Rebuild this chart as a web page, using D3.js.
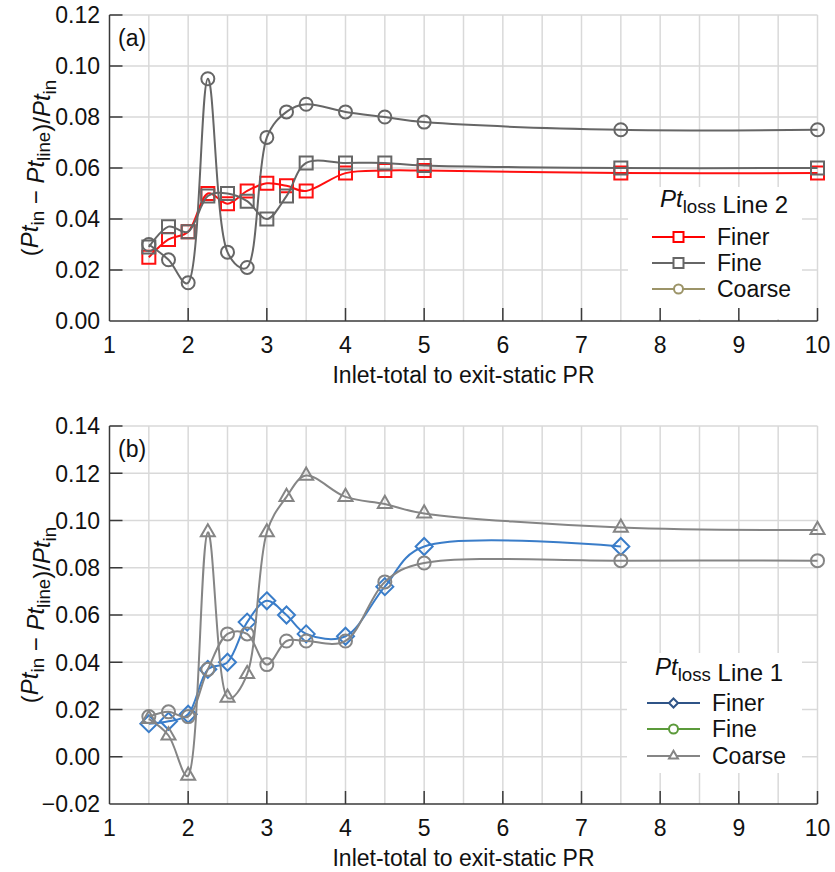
<!DOCTYPE html>
<html>
<head>
<meta charset="utf-8">
<script src="https://cdn.jsdelivr.net/npm/d3@7"></script>
<style>
  body { margin: 0; background: #fff; }
  text { font-family: "Liberation Sans", Arial, sans-serif; fill: #111; }
</style>
</head>
<body>
<svg id="chart" width="835" height="872"></svg>
<script>
// pressure ratio stations (same for every series)
const prValues = [1.5, 1.75, 2, 2.25, 2.5, 2.75, 3, 3.25, 3.5, 4, 4.5, 5, 7.5, 10];

// (a) Pt loss, Line 2
const line2Finer  = [0.025, 0.032, 0.035, 0.050, 0.046, 0.051, 0.054, 0.053, 0.051, 0.058, 0.059, 0.059, 0.058, 0.058];
const line2Fine   = [0.029, 0.037, 0.035, 0.049, 0.050, 0.047, 0.040, 0.049, 0.062, 0.062, 0.062, 0.061, 0.060, 0.060];
const line2Coarse = [0.030, 0.024, 0.015, 0.095, 0.027, 0.021, 0.072, 0.082, 0.085, 0.082, 0.080, 0.078, 0.075, 0.075];

// (b) Pt loss, Line 1 (finer mesh has no point at PR 10)
const line1Finer  = [0.014, 0.015, 0.018, 0.037, 0.040, 0.057, 0.066, 0.060, 0.052, 0.051, 0.072, 0.089, 0.089];
const line1Fine   = [0.017, 0.019, 0.017, 0.037, 0.052, 0.052, 0.039, 0.049, 0.049, 0.049, 0.074, 0.082, 0.083, 0.083];
const line1Coarse = [0.016, 0.009, -0.008, 0.095, 0.025, 0.035, 0.095, 0.110, 0.119, 0.110, 0.107, 0.103, 0.097, 0.096];

const seriesNames = ["Finer", "Fine", "Coarse"];
const xTicks = [1, 2, 3, 4, 5, 6, 7, 8, 9, 10];
const xGrid = [1.5, 2, 2.5, 3, 3.5, 4, 4.5, 5, 5.5, 6, 6.5, 7, 7.5, 8, 8.5, 9, 9.5, 10];
const yTicksA = [0, 0.02, 0.04, 0.06, 0.08, 0.10, 0.12];
const yTicksB = [-0.02, 0, 0.02, 0.04, 0.06, 0.08, 0.10, 0.12, 0.14];
const xTitle = "Inlet-total to exit-static PR";

const svg = d3.select("#chart");
const gridColor = "#d9d9d9";
const axisColor = "#3a3a3a";
const tickLen = 13;
const fs = 23;

const x = d3.scaleLinear().domain([1, 10]).range([109.5, 817.5]);

const markerPath = {
  square: s => `M${-s/2},${-s/2}h${s}v${s}h${-s}Z`,
  circle: s => `M${s/2},0A${s/2},${s/2} 0 1,1 ${-s/2},0A${s/2},${s/2} 0 1,1 ${s/2},0Z`,
  diamond: s => `M0,${-s/2}L${s/2},0L0,${s/2}L${-s/2},0Z`,
  triangle: s => { const h = s * 0.87; return `M0,${-2*h/3}L${s/2},${h/3}L${-s/2},${h/3}Z`; }
};
const markerSize = {square: 13, circle: 13, diamond: 17, triangle: 14};
const legendMarkerSize = {square: 10, circle: 9, diamond: 9, triangle: 9};

// Pt with a subscript, used in the axis title and legend title
function ptSub(text, sub, fontSize) {
  text.append("tspan").style("font-style", "italic").text("Pt");
  text.append("tspan").attr("dy", fontSize * 0.25).style("font-size", (fontSize * 0.78) + "px").text(sub);
  text.append("tspan").attr("dy", -fontSize * 0.25).text("");
}

function drawPanel(cfg) {
  const y = d3.scaleLinear().domain(cfg.yDomain).range([cfg.bottom, cfg.top]);
  const g = svg.append("g");
  const left = x.range()[0], right = x.range()[1];

  // grid
  g.selectAll(".vgrid").data(xGrid).enter().append("line")
    .attr("x1", d => x(d)).attr("x2", d => x(d))
    .attr("y1", cfg.top).attr("y2", cfg.bottom)
    .style("stroke", gridColor).style("stroke-width", 1.5);
  g.selectAll(".hgrid").data(cfg.yTicks.slice(1)).enter().append("line")
    .attr("x1", left).attr("x2", right)
    .attr("y1", d => y(d)).attr("y2", d => y(d))
    .style("stroke", gridColor).style("stroke-width", 1.5);

  // legend background hides the grid behind it
  const lg = cfg.legend;
  g.append("rect")
    .attr("x", lg.box[0]).attr("y", lg.box[1])
    .attr("width", lg.box[2] - lg.box[0]).attr("height", lg.box[3] - lg.box[1])
    .style("fill", "#fff");

  // axes lines and inward ticks
  g.append("line").attr("x1", left).attr("x2", left).attr("y1", cfg.top).attr("y2", cfg.bottom)
    .style("stroke", axisColor).style("stroke-width", 1.5);
  g.append("line").attr("x1", left).attr("x2", right).attr("y1", cfg.bottom).attr("y2", cfg.bottom)
    .style("stroke", axisColor).style("stroke-width", 1.5);
  g.selectAll(".xtick").data(xTicks.slice(1)).enter().append("line")
    .attr("x1", d => x(d)).attr("x2", d => x(d))
    .attr("y1", cfg.bottom).attr("y2", cfg.bottom - tickLen)
    .style("stroke", axisColor).style("stroke-width", 1.5);
  g.selectAll(".ytick").data(cfg.yTicks.slice(1)).enter().append("line")
    .attr("x1", left).attr("x2", left + tickLen)
    .attr("y1", d => y(d)).attr("y2", d => y(d))
    .style("stroke", axisColor).style("stroke-width", 1.5);

  // tick labels
  g.selectAll(".xlab").data(xTicks).enter().append("text")
    .attr("x", d => x(d)).attr("y", cfg.bottom + 32)
    .attr("text-anchor", "middle").style("font-size", fs + "px")
    .text(d => d);
  g.selectAll(".ylab").data(cfg.yTicks).enter().append("text")
    .attr("x", 100).attr("y", d => y(d)).attr("dy", "0.36em")
    .attr("text-anchor", "end").style("font-size", fs + "px")
    .text(d => d3.format(".2f")(d).replace("-", "\u2212"));

  // axis titles
  g.append("text")
    .attr("x", (left + right) / 2).attr("y", cfg.bottom + 62)
    .attr("text-anchor", "middle").style("font-size", fs + "px")
    .text(xTitle);
  const yt = g.append("text")
    .attr("transform", `translate(38,${(cfg.top + cfg.bottom) / 2}) rotate(-90)`)
    .attr("text-anchor", "middle").style("font-size", "24px");
  yt.append("tspan").text("(");
  ptSub(yt, "in", 24);
  yt.append("tspan").text(" \u2212 ");
  ptSub(yt, "line", 24);
  yt.append("tspan").text(")/");
  ptSub(yt, "in", 24);

  // panel label
  g.append("text").attr("x", 118).attr("y", cfg.top + 31)
    .style("font-size", fs + "px").text(cfg.label);

  // series
  const line = d3.line()
    .x(d => x(d[0])).y(d => y(d[1]))
    .curve(d3.curveCatmullRom.alpha(0.4));
  cfg.series.forEach(s => {
    const pts = s.values.map((v, i) => [prValues[i], v]);
    g.append("path").datum(pts)
      .attr("d", line)
      .style("fill", "none").style("stroke", s.color).style("stroke-width", 2);
    g.selectAll(null).data(pts).enter().append("path")
      .attr("d", markerPath[s.marker](markerSize[s.marker]))
      .attr("transform", d => `translate(${x(d[0])},${y(d[1])})`)
      .style("fill", "none").style("stroke", s.color).style("stroke-width", 2);
  });

  // legend
  const lt = g.append("text").attr("x", lg.titleX).attr("y", lg.titleY).style("font-size", "24px");
  ptSub(lt, "loss", 24);
  lt.append("tspan").text(" " + lg.title);
  lg.items.forEach((it, i) => {
    const ly = lg.rowY[i];
    g.append("line").attr("x1", lg.lineX[0]).attr("x2", lg.lineX[1]).attr("y1", ly).attr("y2", ly)
      .style("stroke", it.color).style("stroke-width", 2);
    g.append("path").attr("d", markerPath[it.marker](legendMarkerSize[it.marker]))
      .attr("transform", `translate(${(lg.lineX[0] + lg.lineX[1]) / 2},${ly})`)
      .style("fill", "#fff").style("stroke", it.color).style("stroke-width", 2);
    g.append("text").attr("x", lg.textX).attr("y", ly).attr("dy", "0.36em")
      .style("font-size", fs + "px").text(seriesNames[i]);
  });
}

drawPanel({
  label: "(a)", top: 15, bottom: 321, yDomain: [0, 0.12], yTicks: yTicksA,
  series: [
    {values: line2Finer, color: "#ff1010", marker: "square"},
    {values: line2Fine, color: "#666666", marker: "square"},
    {values: line2Coarse, color: "#666666", marker: "circle"}
  ],
  legend: {
    box: [628, 187, 802, 319], title: "Line 2", titleX: 660, titleY: 207,
    lineX: [652, 705], textX: 717, rowY: [237, 263, 289],
    items: [
      {color: "#ff0000", marker: "square"},
      {color: "#666666", marker: "square"},
      {color: "#9c9468", marker: "circle"}
    ]
  }
});

drawPanel({
  label: "(b)", top: 426, bottom: 804, yDomain: [-0.02, 0.14], yTicks: yTicksB,
  series: [
    {values: line1Finer, color: "#3a7dc9", marker: "diamond"},
    {values: line1Fine, color: "#858585", marker: "circle"},
    {values: line1Coarse, color: "#858585", marker: "triangle"}
  ],
  legend: {
    box: [627, 653, 802, 773], title: "Line 1", titleX: 655, titleY: 675,
    lineX: [647, 700], textX: 712, rowY: [703, 729, 756],
    items: [
      {color: "#2f5487", marker: "diamond"},
      {color: "#5b9a3a", marker: "circle"},
      {color: "#858585", marker: "triangle"}
    ]
  }
});
</script>
</body>
</html>
